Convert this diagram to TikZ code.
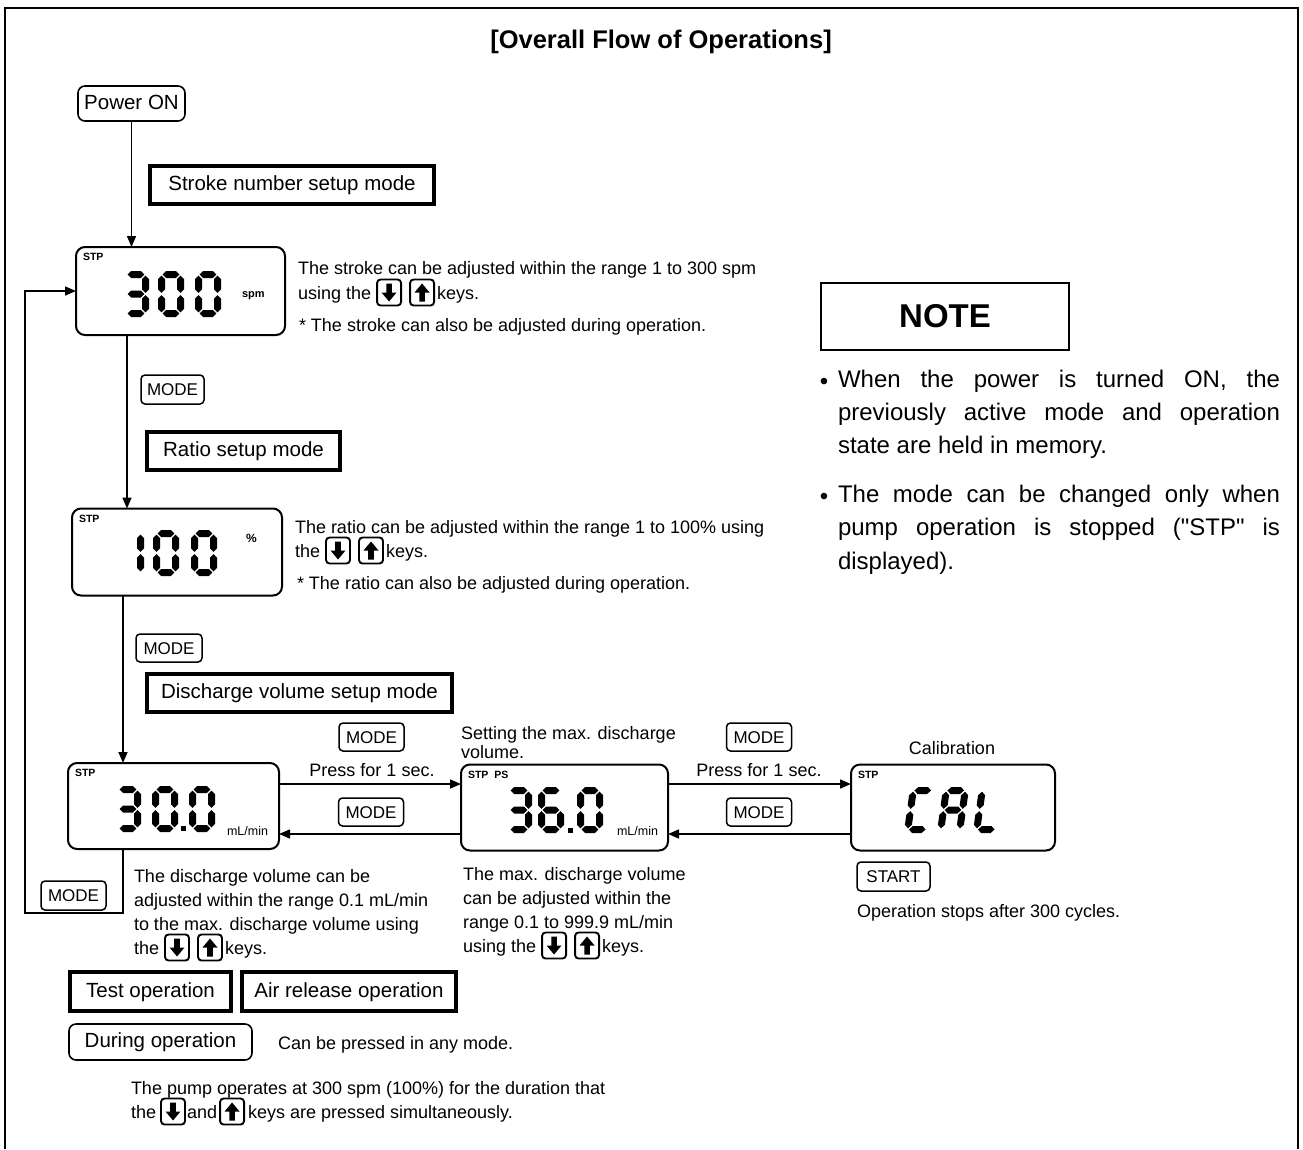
\documentclass[tikz,border=0pt]{standalone}
\usepackage{fontspec}
\setmainfont{Liberation Sans}
\newfontfamily\qfont{Liberation Sans}[Ligatures=TeXOff]
\usetikzlibrary{arrows.meta}
% seven segment helpers (px coordinates, y downwards)
\newcommand\hseg[3]{\fill (#1,#2) -- (#1+3.5,#2-3.5) -- (#3-3.5,#2-3.5) -- (#3,#2) -- (#3-3.5,#2+3.5) -- (#1+3.5,#2+3.5) -- cycle;}
\newcommand\vseg[3]{\fill (#1,#2) -- (#1+3.5,#2+3.5) -- (#1+3.5,#3-3.5) -- (#1,#3) -- (#1-3.5,#3-3.5) -- (#1-3.5,#2+3.5) -- cycle;}
\def\sgA#1#2{\hseg{#1+4.7}{#2+3.5}{#1+21.3}}
\def\sgG#1#2{\hseg{#1+4.7}{#2+23}{#1+21.3}}
\def\sgD#1#2{\hseg{#1+4.7}{#2+42.5}{#1+21.3}}
\def\sgF#1#2{\vseg{#1+3.5}{#2+4.7}{#2+21.8}}
\def\sgB#1#2{\vseg{#1+22.5}{#2+4.7}{#2+21.8}}
\def\sgE#1#2{\vseg{#1+3.5}{#2+24.2}{#2+41.3}}
\def\sgC#1#2{\vseg{#1+22.5}{#2+24.2}{#2+41.3}}
\newcommand\sdigit[3]{\foreach \s in {#3}{\csname sg\s\endcsname{#1}{#2}}}
% arrow keys
\newcommand\kdown[3]{\node[arrkey,#2] (#1) at #3 {};
  \fill[shift={(#1.center)}] (-2.8,-9) -- (2.8,-9) -- (2.8,0) -- (7.5,0) -- (0,9) -- (-7.5,0) -- (-2.8,0) -- cycle;}
\newcommand\kup[3]{\node[arrkey,#2] (#1) at #3 {};
  \fill[shift={(#1.center)}] (-2.8,9) -- (2.8,9) -- (2.8,0) -- (7.5,0) -- (0,-9) -- (-7.5,0) -- (-2.8,0) -- cycle;}
\newcommand\keyline[4]{%
  \node[txt] (#1a) at #2 {#3};
  \kdown{#1d}{anchor=west}{([shift={(6,-6.5)}]#1a.base east)}
  \kup{#1u}{anchor=west}{([xshift=9pt]#1d.east)}
  \coordinate (#1c) at (#1u.east |- #1a.base);
  \node[txt] (#1b) at ([xshift=3pt]#1c) {#4};}
\begin{document}
\begin{tikzpicture}[x=1pt,y=-1pt,
  every node/.style={inner sep=0pt, outer sep=0pt},
  arr/.style={line width=1.5pt, -{Triangle[length=11pt,width=9pt]}},
  txt/.style={anchor=base west, font=\fontsize{18}{24}\selectfont},
  ctxt/.style={anchor=base, font=\fontsize{18}{24}\selectfont},
  modebox/.style={draw, line width=3.2pt, font=\fontsize{20.5}{24}\selectfont, text height=15pt, text depth=4pt},
  capsule/.style={draw, line width=1.6pt, rounded corners=7pt, font=\fontsize{20.5}{24}\selectfont, text height=15pt, text depth=4pt},
  keybtn/.style={draw, line width=1.5pt, rounded corners=4pt, font=\fontsize{17}{20}\selectfont, text height=12.5pt, text depth=0pt},
  disp/.style={draw, line width=2pt, rounded corners=9pt},
  lcdlbl/.style={anchor=west, font=\bfseries\fontsize{10.5}{12}\selectfont},
  unitlbl/.style={anchor=west, font=\fontsize{12.5}{14}\selectfont},
  arrkey/.style={draw, line width=1.9pt, rounded corners=3.5pt, minimum width=24pt, minimum height=26pt},
]
\useasboundingbox (0,0) rectangle (1303,1149);
\fill[white] (0,0) rectangle (1303,1149);
% frame
\draw[line width=1.5pt] (5,1149) -- (5,8) -- (1298,8) -- (1298,1149);
% title
\node[font=\bfseries\fontsize{25.5}{29}\selectfont] (title) at (661,42) {[Overall Flow of Operations]};

% main column
\node[capsule, minimum width=107pt, minimum height=35pt] (power) at (131.5,103.5) {Power ON};
\node[modebox, minimum width=284pt, minimum height=38pt] (stroke) at (292,185) {Stroke number setup mode};
\node[disp, minimum width=209pt, minimum height=88pt] (d1) at (180.5,291) {};
\node[keybtn, minimum width=63pt, minimum height=29pt] (mode1) at (172.5,389.5) {MODE};
\node[modebox, minimum width=193pt, minimum height=38pt] (ratio) at (243.5,451) {Ratio setup mode};
\node[disp, minimum width=210pt, minimum height=87pt] (d2) at (177,552) {};
\node[keybtn, minimum width=66pt, minimum height=28pt] (mode2) at (169,648) {MODE};
\node[modebox, minimum width=305pt, minimum height=38pt] (disch) at (299.5,693) {Discharge volume setup mode};
\node[disp, minimum width=211pt, minimum height=86pt] (d3) at (173.5,806) {};
\node[disp, minimum width=207pt, minimum height=86pt] (d4) at (564.5,807.5) {};
\node[disp, minimum width=204pt, minimum height=86pt] (d5) at (953,807.5) {};
\node[keybtn, minimum width=65pt, minimum height=28pt] (mk1) at (371.5,737) {MODE};
\node[keybtn, minimum width=65pt, minimum height=28pt] (mk2) at (371,812) {MODE};
\node[keybtn, minimum width=65pt, minimum height=28pt] (mk3) at (759,737) {MODE};
\node[keybtn, minimum width=65pt, minimum height=28pt] (mk4) at (759,812) {MODE};
\node[keybtn, minimum width=73pt, minimum height=29pt] (start) at (893.5,876.5) {START};
\node[keybtn, minimum width=65pt, minimum height=29pt] (mloop) at (73.5,895.5) {MODE};
\node[modebox, minimum width=161pt, minimum height=39pt] (test) at (150.5,991.5) {Test operation};
\node[modebox, minimum width=214pt, minimum height=39pt] (air) at (349,991.5) {Air release operation};
\node[capsule, minimum width=183pt, minimum height=36pt] (during) at (160.5,1042) {During operation};

% connectors
\coordinate (c12) at (127,0);
\coordinate (c23) at (123,0);
\coordinate (lb) at (25,913);
\coordinate (rowA) at (0,784);
\coordinate (rowB) at (0,834);
\draw[arr] (power.south) -- (power.south |- d1.north);
\draw[arr] (d1.south -| c12) -- (d2.north -| c12);
\draw[arr] (d2.south -| c23) -- (d3.north -| c23);
\draw[arr] (d3.south -| c23) |- (lb) |- (d1.west);
\draw[arr] (d3.east |- rowA) -- (d4.west |- rowA);
\draw[arr] (d4.west |- rowB) -- (d3.east |- rowB);
\draw[arr] (d4.east |- rowA) -- (d5.west |- rowA);
\draw[arr] (d5.west |- rowB) -- (d4.east |- rowB);

% display contents
\node[lcdlbl] (s1) at (83,257) {STP};
\sdigit{123}{271}{A,B,C,D,G}
\sdigit{158}{271}{A,B,C,D,E,F}
\sdigit{195}{271}{A,B,C,D,E,F}
\node[anchor=west, font=\bfseries\fontsize{11}{12}\selectfont] (u1) at (242,296) {spm};

\node[lcdlbl] (s2) at (79,519) {STP};
\sdigit{118}{530}{B,C}
\sdigit{153}{530}{A,B,C,D,E,F}
\sdigit{191}{530}{A,B,C,D,E,F}
\node[anchor=west, font=\bfseries\fontsize{12}{13}\selectfont] (u2) at (246,538) {\%};

\node[lcdlbl] (s3) at (75,773) {STP};
\sdigit{115}{786}{A,B,C,D,G}
\sdigit{152}{786}{A,B,C,D,E,F}
\sdigit{189}{786}{A,B,C,D,E,F}
\fill (180.5,825.5) rectangle (186,831);
\node[unitlbl] (u3) at (227,831) {mL/min};

\node[lcdlbl] (s4) at (468,775) {STP\hspace{6pt}PS};
\sdigit{506}{787}{A,B,C,D,G}
\sdigit{538}{787}{A,C,D,E,F,G}
\sdigit{577}{787}{A,B,C,D,E,F}
\fill (567.5,827.5) rectangle (573,833);
\node[unitlbl] (u4) at (617,831) {mL/min};

\node[lcdlbl] (s5) at (858,775) {STP};
\begin{scope}[shift={(0,810)}, xslant=0.14]
\sdigit{907}{-23}{A,D,E,F}
\sdigit{940}{-23}{A,B,C,E,F,G}
\sdigit{976}{-23}{D,E,F}
\end{scope}

% texts
\node[txt] (t11) at (298,274) {The stroke can be adjusted within the range 1 to 300 spm};
\keyline{t12}{(298,299)}{using the}{keys.}
\node[txt] (t13) at (299,331) {* The stroke can also be adjusted during operation.};

\node[txt] (t21) at (295,533) {The ratio can be adjusted within the range 1 to 100\% using};
\keyline{t22}{(295,557)}{the}{keys.}
\node[txt] (t23) at (297,589) {* The ratio can also be adjusted during operation.};

\node[txt] (set1) at (461,739) {Setting the max. discharge};
\node[txt] (set2) at (461,758) {volume.};
\node[ctxt] (press1) at (372,776) {Press for 1 sec.};
\node[ctxt] (press2) at (759,776) {Press for 1 sec.};
\node[ctxt] (calib) at (952,754) {Calibration};

\node[txt] (t31) at (134,882) {The discharge volume can be};
\node[txt] (t32) at (134,906) {adjusted within the range 0.1 mL/min};
\node[txt] (t33) at (134,930) {to the max. discharge volume using};
\keyline{t34}{(134,954)}{the}{keys.}

\node[txt] (t41) at (463,880) {The max. discharge volume};
\node[txt] (t42) at (463,904) {can be adjusted within the};
\node[txt] (t43) at (463,928) {range 0.1 to 999.9 mL/min};
\keyline{t44}{(463,952)}{using the}{keys.}

\node[txt] (opstop) at (857,917) {Operation stops after 300 cycles.};
\node[txt] (canbe) at (278,1049) {Can be pressed in any mode.};
\node[txt] (p1) at (131,1094) {The pump operates at 300 spm (100\%) for the duration that};
\node[txt] (p2a) at (131,1118) {the};
\kdown{p2d}{anchor=west}{([shift={(5,-6.5)}]p2a.base east)}
\coordinate (p2c) at (p2d.east |- p2a.base);
\node[txt] (p2b) at ([xshift=2pt]p2c) {and};
\kup{p2u}{anchor=west}{([shift={(3,-6.5)}]p2b.base east)}
\coordinate (p2e) at (p2u.east |- p2a.base);
\node[txt] (p2f) at ([xshift=4pt]p2e) {keys are pressed simultaneously.};

% NOTE
\node[draw, line width=1.5pt, minimum width=248pt, minimum height=67pt, font=\bfseries\fontsize{33}{36}\selectfont] (note) at (945,316.5) {NOTE};
\node[font=\fontsize{24}{33}\selectfont] (b1) at (824,384) {•};
\node[font=\fontsize{24}{33}\selectfont] (b2) at (824,499) {•};
\node[anchor=north west, text width=442pt, align=justify, font=\fontsize{24}{33}\selectfont] (n1) at (838,370)
  {When the power is turned ON, the\linebreak previously active mode and operation\linebreak state are held in memory.};
\node[anchor=north west, text width=442pt, align=justify, font=\fontsize{24}{33.5}\selectfont] (n2) at (838,485)
  {The mode can be changed only when\linebreak pump operation is stopped ({\qfont"}STP{\qfont"} is\linebreak displayed).};
\end{tikzpicture}
\end{document}
